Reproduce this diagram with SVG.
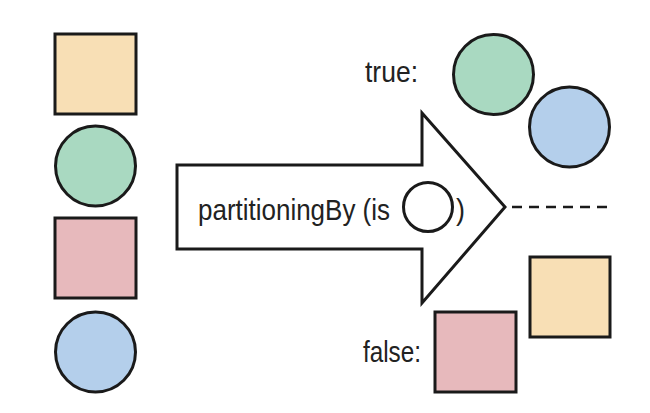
<svg xmlns="http://www.w3.org/2000/svg" width="650" height="413" viewBox="0 0 650 413">
<style>
.s{stroke:#1a1a1a;stroke-width:3}
.o{fill:#f8dfb5}.g{fill:#a9d9c1}.p{fill:#e7b9bc}.b{fill:#b4cfeb}
.t{font-family:"Liberation Sans",Arial,sans-serif;font-size:29px;fill:#222}
</style>
<rect width="650" height="413" fill="#fff"/>
<g id="input">
<rect id="in-sq1" class="s o" x="55" y="34" width="81" height="80"/>
<circle id="in-c1" class="s g" cx="95.5" cy="166" r="40"/>
<rect id="in-sq2" class="s p" x="55" y="218" width="81" height="80"/>
<circle id="in-c2" class="s b" cx="95.5" cy="352" r="40"/>
</g>
<g id="arrow">
<path class="s" fill="#fff" d="M177 165 H422 V113 L505 207 L422 303 V249 H177 Z"/>
<text class="t" x="198" y="220" textLength="192" lengthAdjust="spacingAndGlyphs">partitioningBy (is</text>
<circle class="s" fill="#fff" cx="428" cy="207" r="24.5" stroke-width="2.5"/>
<text class="t" x="456" y="220" textLength="9" lengthAdjust="spacingAndGlyphs">)</text>
</g>
<g id="connectors">
<line x1="512" y1="207" x2="610" y2="207" stroke="#1a1a1a" stroke-width="2.5" stroke-dasharray="10 7"/>
</g>
<g id="true">
<text class="t" x="365" y="82" textLength="53" lengthAdjust="spacingAndGlyphs">true:</text>
<circle class="s g" cx="493.5" cy="74.5" r="40"/>
<circle class="s b" cx="569.5" cy="127" r="40"/>
</g>
<g id="false">
<text class="t" x="363" y="362" textLength="58" lengthAdjust="spacingAndGlyphs">false:</text>
<rect class="s o" x="530" y="257" width="80" height="80"/>
<rect class="s p" x="435" y="312" width="81" height="80"/>
</g>
</svg>
